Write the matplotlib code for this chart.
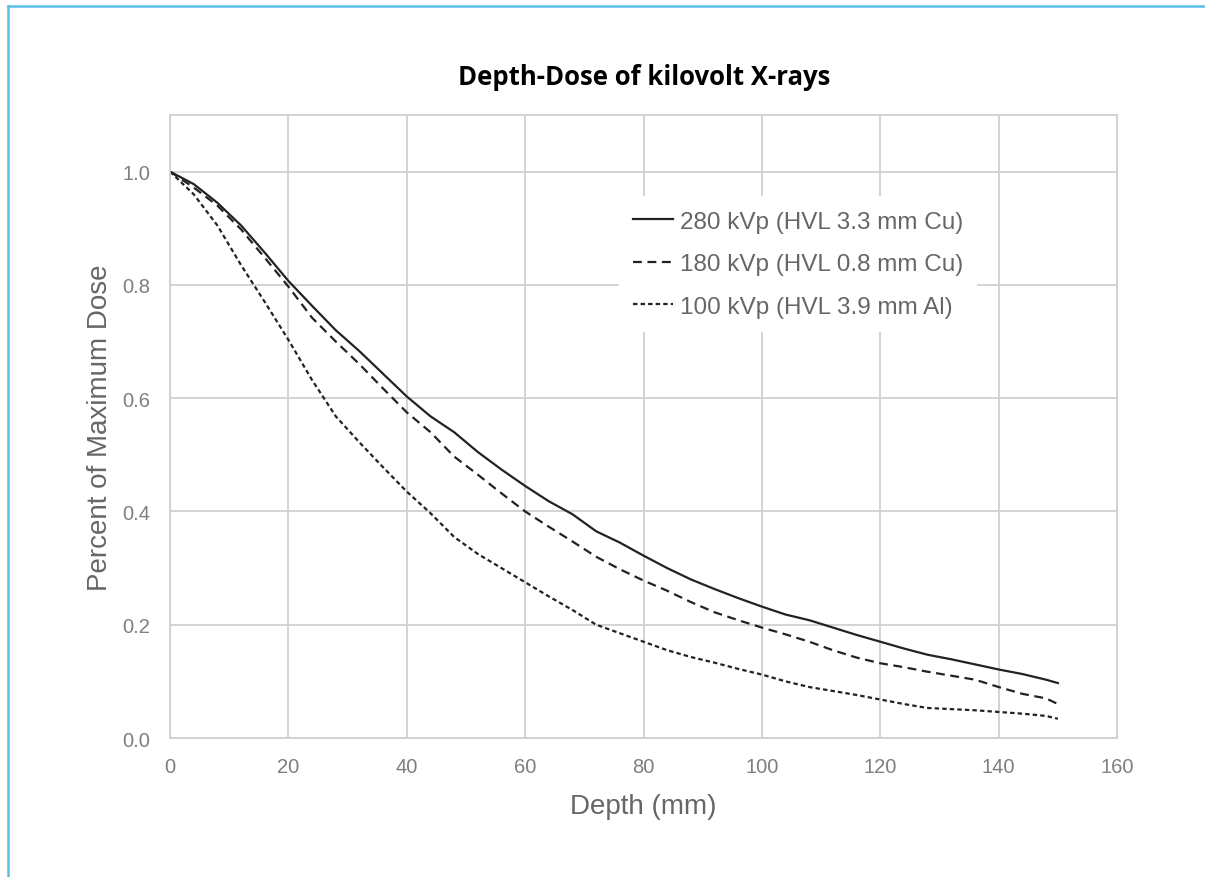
# plot.py
# ------------------------------------------------------------
# Depth-dose curves for three kilovolt X-ray beams (280 / 180 / 100 kVp),
# redrawn as a static figure.
# ------------------------------------------------------------

import matplotlib
matplotlib.use("Agg")
import matplotlib.pyplot as plt
from matplotlib.lines import Line2D

# ── 1. Data ──────────────────────────────────────────────────────────────────
depth_mm = [0, 4, 8, 12, 16, 20, 24, 28, 32, 36, 40, 44, 48, 52, 56, 60, 64,
            68, 72, 76, 80, 84, 88, 92, 96, 100, 104, 108, 112, 116, 120, 124,
            128, 132, 136, 140, 144, 148, 150]

dose_280kvp = [1.000, 0.978, 0.945, 0.905, 0.857, 0.807, 0.763, 0.720, 0.683,
               0.643, 0.603, 0.568, 0.540, 0.505, 0.474, 0.445, 0.418, 0.395,
               0.365, 0.345, 0.322, 0.300, 0.280, 0.263, 0.247, 0.232, 0.218,
               0.208, 0.195, 0.182, 0.170, 0.158, 0.147, 0.139, 0.130, 0.121,
               0.113, 0.103, 0.097]

dose_180kvp = [1.000, 0.972, 0.940, 0.898, 0.848, 0.797, 0.742, 0.700, 0.660,
               0.617, 0.575, 0.540, 0.497, 0.465, 0.432, 0.400, 0.373, 0.347,
               0.320, 0.298, 0.278, 0.260, 0.240, 0.222, 0.208, 0.195, 0.183,
               0.170, 0.155, 0.142, 0.132, 0.125, 0.117, 0.110, 0.103, 0.090,
               0.078, 0.070, 0.060]

dose_100kvp = [1.000, 0.960, 0.905, 0.835, 0.770, 0.703, 0.632, 0.568, 0.522,
               0.478, 0.435, 0.397, 0.355, 0.325, 0.300, 0.275, 0.250, 0.226,
               0.200, 0.185, 0.170, 0.155, 0.143, 0.133, 0.122, 0.112, 0.100,
               0.090, 0.083, 0.076, 0.068, 0.060, 0.053, 0.051, 0.049, 0.046,
               0.043, 0.039, 0.034]

series_labels = ["280 kVp (HVL 3.3 mm Cu)",
                 "180 kVp (HVL 0.8 mm Cu)",
                 "100 kVp (HVL 3.9 mm Al)"]

x_ticks = [0, 20, 40, 60, 80, 100, 120, 140, 160]
y_ticks = [0.0, 0.2, 0.4, 0.6, 0.8, 1.0]

# ── 2. Styling ───────────────────────────────────────────────────────────────
plt.rcParams["font.family"] = ["Liberation Sans", "DejaVu Sans"]
GRID = "#d0d0d0"
TICK_GREY = "#7f7f7f"
LABEL_GREY = "#666666"
LW = 1.6

fig = plt.figure(figsize=(12.05, 8.78), dpi=100)
ax = fig.add_axes([0.1411, 0.1583, 0.7859, 0.7096])

ax.plot(depth_mm, dose_280kvp, color="#222222", lw=LW, linestyle="-",
        label=series_labels[0])
ax.plot(depth_mm, dose_180kvp, color="#222222", lw=LW,
        linestyle=(0, (4.0, 2.5)), label=series_labels[1])
ax.plot(depth_mm, dose_100kvp, color="#222222", lw=LW,
        linestyle=(0, (2.0, 1.4)), label=series_labels[2])

ax.set_xlim(0, 160)
ax.set_ylim(0, 1.1)
ax.set_xticks(x_ticks)
ax.set_yticks(y_ticks)
ax.set_yticklabels([f"{v:.1f}" for v in y_ticks])
ax.grid(True, color=GRID, linewidth=1.3)
ax.set_axisbelow(True)
for side in ax.spines.values():
    side.set_color(GRID)
    side.set_linewidth(1.3)
ax.tick_params(length=0, labelsize=14.5, colors=TICK_GREY, pad=14)

ax.set_xlabel("Depth (mm)", fontsize=20, color=LABEL_GREY, labelpad=12)
ax.set_ylabel("Percent of Maximum Dose", fontsize=20, color=LABEL_GREY,
              labelpad=7)

fig.text(0.535, 0.912, "Depth-Dose of kilovolt X-rays", ha="center",
         va="center", fontsize=18.5, fontweight="bold", color="black",
         family=["Open Sans", "DejaVu Sans"])

leg = ax.legend(loc="upper left", bbox_to_anchor=(0.461, 0.889),
                fontsize=17.5, frameon=True, framealpha=1, edgecolor="none",
                facecolor="white", handlelength=1.65, handletextpad=0.25,
                labelspacing=0.84, borderpad=0.6, fancybox=False)
for t in leg.get_texts():
    t.set_color(LABEL_GREY)

# ── 3. Light-blue border (left + top edges only) ─────────────────────────────
fig.add_artist(Line2D([0.0066, 0.0066], [0.0, 0.9915], transform=fig.transFigure,
                      color="#5bbfe9", lw=1.8))
fig.add_artist(Line2D([0.0066, 1.0], [0.9915, 0.9915], transform=fig.transFigure,
                      color="#5bbfe9", lw=1.8))

fig.savefig("out.png", dpi=100, facecolor="white")
plt.close(fig)
